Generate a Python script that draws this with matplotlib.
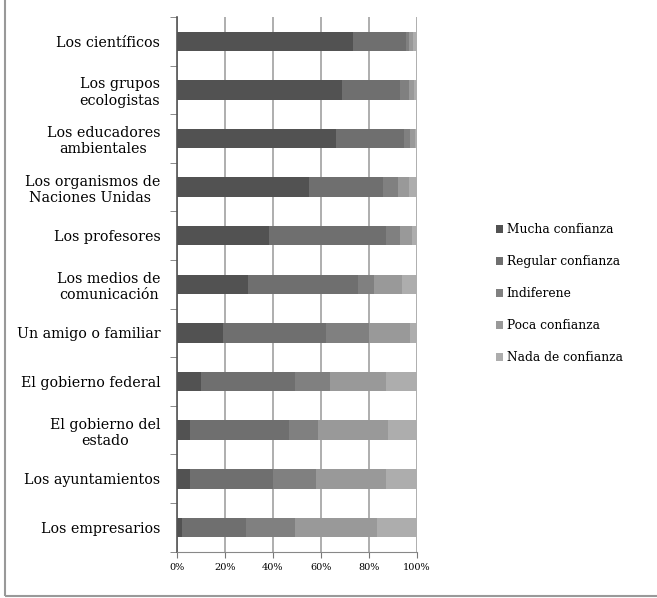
import numpy as np
import matplotlib.pyplot as plt

# categories, top to bottom
categories = ['Los científicos', 'Los grupos\necologistas', 'Los educadores\nambientales',
              'Los organismos de\nNaciones Unidas ', 'Los profesores', 'Los medios de\ncomunicación',
              'Un amigo o familiar', 'El gobierno federal', 'El gobierno del\nestado',
              'Los ayuntamientos', 'Los empresarios']

series = ['Mucha confianza', 'Regular confianza', 'Indiferene', 'Poca confianza', 'Nada de confianza']

# percent values
mucha = [73.4, 68.9, 66.4, 55.2, 38.2, 29.7, 19.2, 9.9, 5.3, 5.3, 2.2]
regular = [22.2, 24.0, 28.3, 30.7, 48.8, 46.0, 43.0, 39.5, 41.6, 34.6, 26.5]
indiferente = [1.4, 3.9, 2.7, 6.3, 6.2, 6.3, 17.8, 14.6, 11.8, 18.1, 20.7]
poca = [1.5, 2.2, 2.0, 4.8, 4.8, 12.0, 17.4, 23.0, 29.3, 29.0, 34.0]
nada = [1.5, 1.0, 0.6, 3.0, 2.0, 6.0, 2.6, 13.0, 12.0, 13.0, 16.6]

colors = ['#525252', '#6f6f6f', '#808080', '#999999', '#adadad']

plt.rcParams['font.family'] = 'DejaVu Serif'

fig = plt.figure(figsize=(6.57, 5.98), dpi=100)
ax = fig.add_axes([0.2694, 0.0774, 0.3648, 0.8942])

y = np.arange(len(categories))
left = np.zeros(len(categories))
for name, vals, c in zip(series, [mucha, regular, indiferente, poca, nada], colors):
    ax.barh(y, vals, left=left, height=0.4, color=c, label=name, zorder=3)
    left += np.array(vals)

ax.set_xlim(0, 100)
ax.set_ylim(len(categories) - 0.5, -0.5)

# gridlines
ax.set_xticks(np.arange(0, 101, 20))
ax.set_xticklabels([f'{v}%' for v in range(0, 101, 20)], fontsize=7)
ax.xaxis.grid(True, color='#999999', linewidth=1.1, zorder=0)
ax.tick_params(axis='x', length=4, color='#777777', pad=4)

ax.set_yticks(y)
ax.set_yticklabels(categories, fontsize=10.3)
for lab in ax.get_yticklabels():
    lab.set_multialignment('center')
ax.set_yticks(np.arange(-0.5, len(categories)), minor=True)
ax.tick_params(axis='y', which='major', length=0, pad=12)
ax.tick_params(axis='y', which='minor', length=5, color='#777777')

for s in ['top', 'right']:
    ax.spines[s].set_visible(False)
ax.spines['left'].set_color('#555555')
ax.spines['left'].set_linewidth(1.2)
ax.spines['bottom'].set_color('#888888')

fig.legend(loc='center left', bbox_to_anchor=(0.738, 0.509), frameon=False,
           fontsize=8.8, handlelength=0.6, handleheight=0.6, handletextpad=0.3,
           labelspacing=1.55)

# outer frame
frame = plt.Rectangle((0.008, 0.004), 1.2, 1.2, transform=fig.transFigure,
                      fill=False, edgecolor='#999999', linewidth=1.5)
fig.patches.append(frame)

plt.savefig('out.png', dpi=100)
